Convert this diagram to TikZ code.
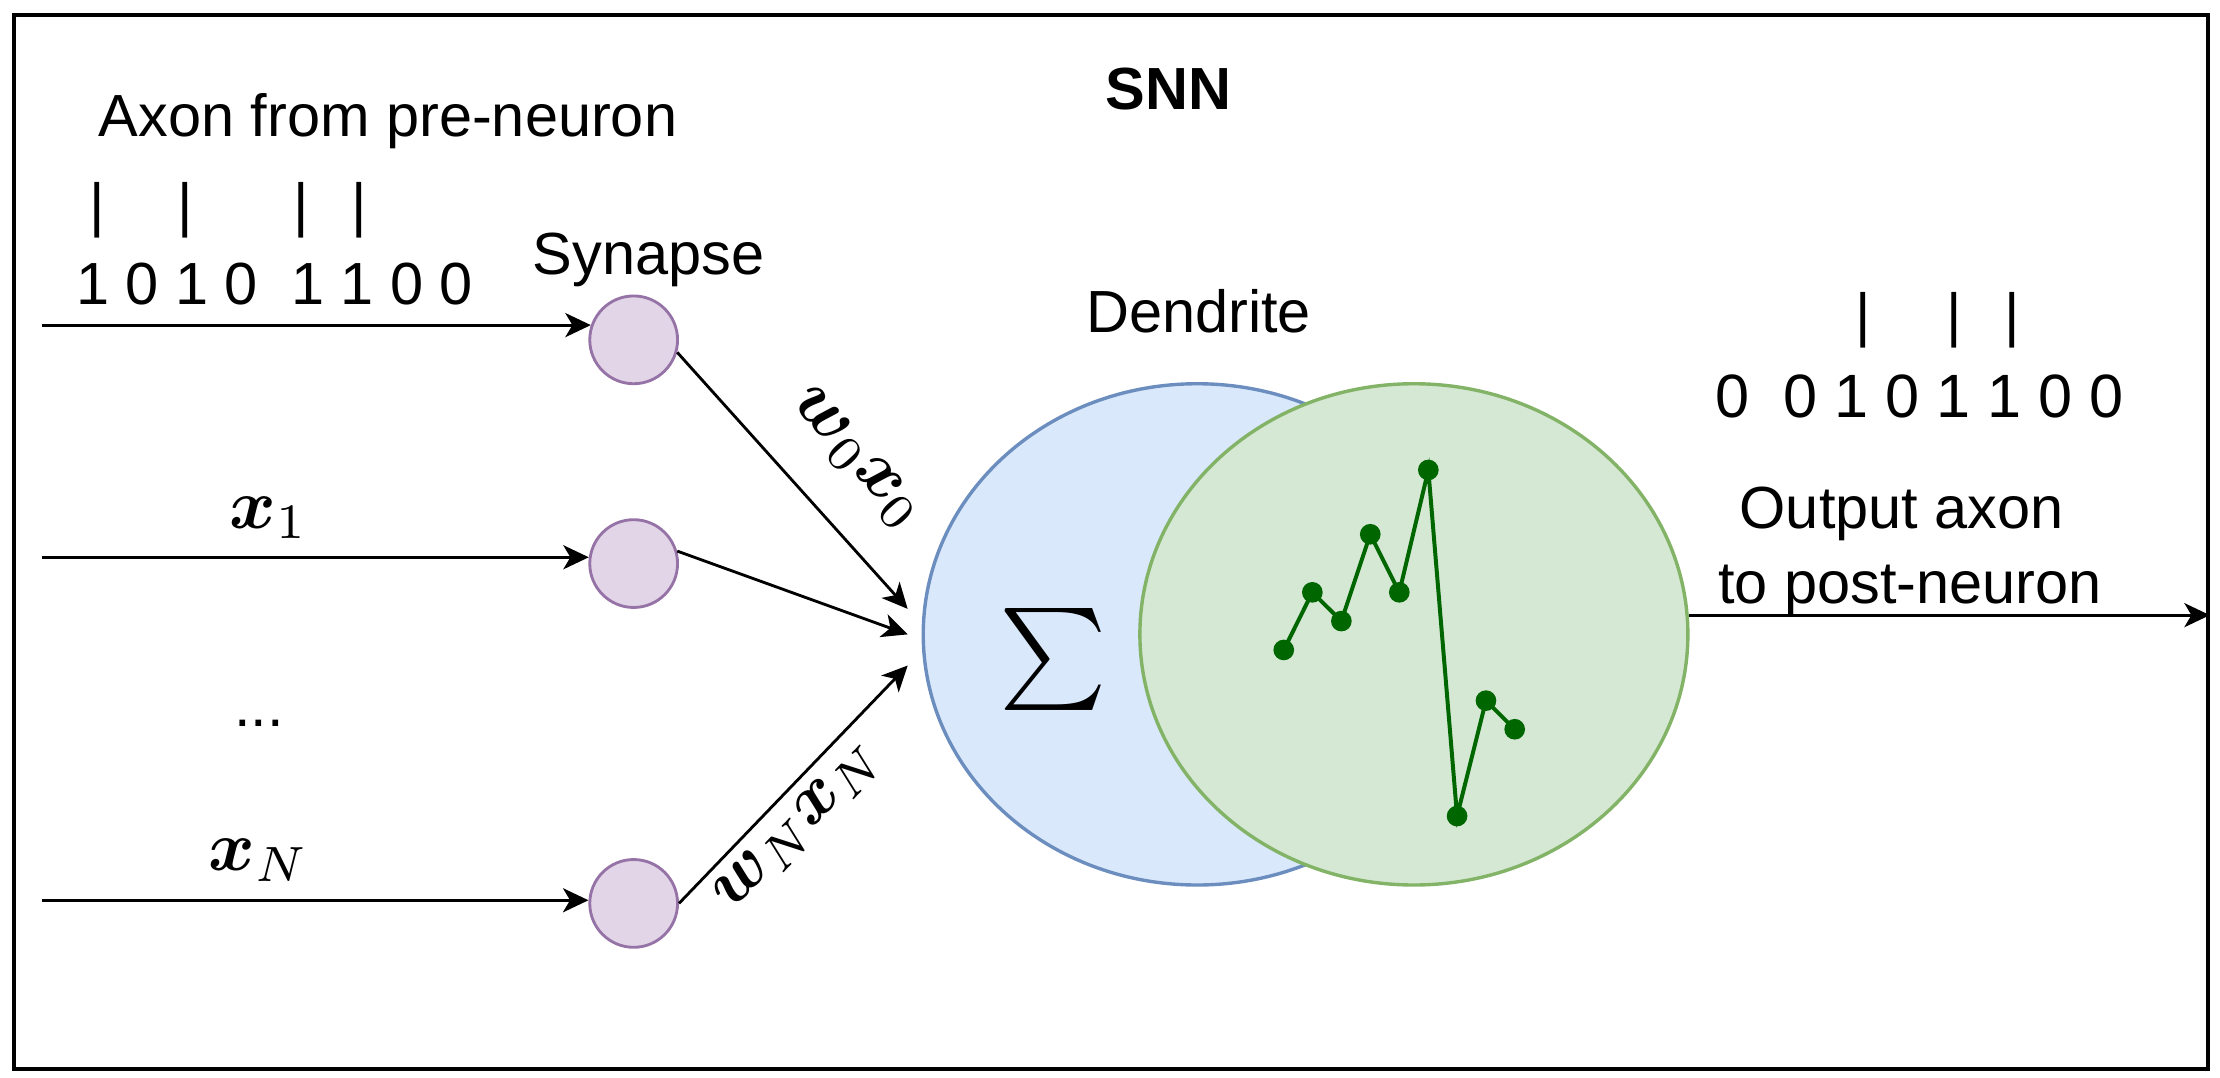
\documentclass[tikz,border=0pt]{standalone}
\usepackage[no-math]{fontspec}
\newfontfamily\arialf{Liberation Sans}
\usetikzlibrary{arrows.meta,shapes.geometric}
\definecolor{synfill}{HTML}{E1D5E7}
\definecolor{synline}{HTML}{9673A6}
\definecolor{blfill}{HTML}{DAE8FC}
\definecolor{blline}{HTML}{6C8EBF}
\definecolor{grfill}{HTML}{D5E8D4}
\definecolor{grline}{HTML}{82B366}
\definecolor{spk}{HTML}{006600}
\tikzset{
  lbl/.style={font=\arialf\fontsize{21}{25}\selectfont, inner sep=0pt},
  boldlbl/.style={font=\arialf\bfseries\fontsize{21}{25}\selectfont, inner sep=0pt},
  mlbl/.style={inner sep=0pt},
  syn/.style={circle, draw=synline, fill=synfill, line width=1pt, minimum size=31pt, inner sep=0pt},
  bigell/.style={ellipse, line width=1.2pt, minimum width=193.5pt, minimum height=177pt, inner sep=0pt},
  arr/.style={line width=1pt, -{Stealth[length=9pt,width=8.5pt,inset=2.5pt]}},
  spkdot/.style={circle, fill=spk, minimum size=7.3pt, inner sep=0pt},
  spkline/.style={draw=spk, line width=1.4pt},
  framebox/.style={rectangle, draw, line width=1.3pt, inner sep=0pt, minimum width=774.8pt, minimum height=372.2pt},
}
\newcommand{\mybigmath}[1]{\scalebox{2.5}{$#1$}}
\newcommand{\bsym}[1]{\mbox{\boldmath$#1$}}
\begin{document}
\begin{tikzpicture}[x=0.5pt,y=-0.5pt]
\useasboundingbox (0,0) rectangle (1567.8,760.6);
\node[framebox] (box) at (784.5,382.8) {};

% ellipses
\node[bigell, draw=blline, fill=blfill] (dend) at (845.5,448) {};
\node[bigell, draw=grline, fill=grfill] (soma) at (998.5,448) {};
\node[inner sep=0pt] (sig) at (743.5,466) {\scalebox{3.6}{$\textstyle\sum$}};

% synapses
\node[syn] (c1) at (447.5,240) {};
\node[syn] (c2) at (447.5,398) {};
\node[syn] (c3) at (447.5,638) {};

\coordinate (in1) at (30,230);
\coordinate (in2) at (30,393.6);
\coordinate (in3) at (30,636);
\draw[arr] (c1.161 -| in1) -- (c1.161);
\draw[arr] (c2.172 -| in2) -- (c2.172);
\draw[arr] (c3.176 -| in3) -- (c3.176);

\coordinate (t1) at (641,430);
\coordinate (t2) at (641,448);
\coordinate (t3) at (641,470);
\draw[arr] (c1.-16) -- (t1);
\draw[arr] (c2.16) -- (t2);
\draw[arr] (c3.east) -- (t3);

\draw[arr] (soma.4) -- (soma.4 -| box.east);

% spike train
\node[spkdot] (s1) at (906.6,459.0) {};
\node[spkdot] (s2) at (926.8,418.3) {};
\node[spkdot] (s3) at (947.3,438.6) {};
\node[spkdot] (s4) at (967.7,377.3) {};
\node[spkdot] (s5) at (988.2,418.3) {};
\node[spkdot] (s6) at (1008.7,331.9) {};
\node[spkdot] (s7) at (1029,576.3) {};
\node[spkdot] (s8) at (1049.4,494.8) {};
\node[spkdot] (s9) at (1069.7,515) {};
\draw[spkline] (s1.center) -- (s2.center) -- (s3.center) -- (s4.center) -- (s5.center)
  -- (s6.center) -- (s7.center) -- (s8.center) -- (s9.center);

% texts
\node[boldlbl, anchor=base] (snn) at (825,77) {SNN};
\node[lbl, anchor=base] (axon) at (274,96.5) {Axon from pre-neuron};
\node[lbl, anchor=base] (ti1) at (69,159) {|};
\node[lbl, anchor=base] (ti2) at (131,159) {|};
\node[lbl, anchor=base] (ti3) at (213,159) {|};
\node[lbl, anchor=base] (ti4) at (254,159) {|};
\node[lbl, anchor=base west] (bits) at (53.4,215) {1 0 1 0\ \ 1 1 0 0};
\node[lbl, anchor=base] (synlab) at (458,194) {Synapse};
\node[lbl, anchor=base] (dlab) at (846.5,235) {Dendrite};
\node[lbl, anchor=base] (to1) at (1316,237) {|};
\node[lbl, anchor=base] (to2) at (1380,237) {|};
\node[lbl, anchor=base] (to3) at (1421,237) {|};
\node[lbl, font=\arialf\fontsize{21.6}{25}\selectfont, anchor=base west] (obits) at (1211,295) {0\ \ 0 1 0 1 1 0 0};
\node[lbl, anchor=base] (olab1) at (1343,373) {Output axon};
\node[lbl, anchor=base] (olab2) at (1349,426) {to post-neuron};
\node[lbl, anchor=base] (dots) at (183,513) {...};

\node[mlbl, anchor=base] (lx1) at (190,373) {\mybigmath{\bsym{x}_1}};
\node[mlbl, anchor=base] (lxN) at (183,615) {\mybigmath{\bsym{x}_N}};
\node[mlbl, rotate=-48] (lw0) at (604,324) {\mybigmath{\bsym{w}_0\bsym{x}_0}};
\node[mlbl, rotate=46] (lwN) at (564,584) {\mybigmath{\bsym{w}_N\bsym{x}_N}};
\end{tikzpicture}
\end{document}
